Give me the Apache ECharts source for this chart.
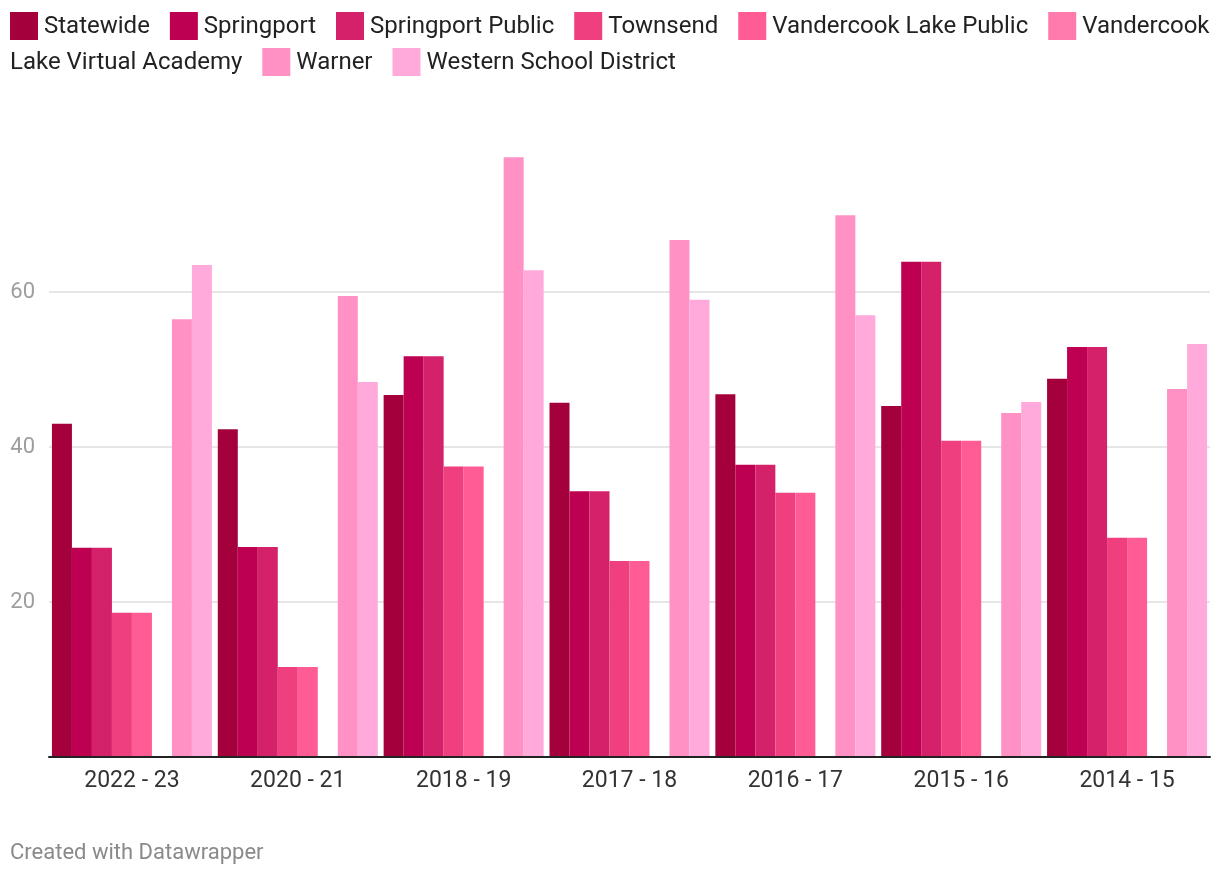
<!DOCTYPE html>
<html>
<head>
<meta charset="utf-8">
<style>
html,body{margin:0;padding:0;background:#fff;}
#chart{width:1220px;height:878px;}
</style>
<script src="https://cdn.jsdelivr.net/npm/echarts@6/dist/echarts.min.js"></script>
</head>
<body>
<div id="chart"></div>
<script>
const categories = ['2022 - 23','2020 - 21','2018 - 19','2017 - 18','2016 - 17','2015 - 16','2014 - 15'];
const seriesNames = ['Statewide','Springport','Springport Public','Townsend','Vandercook Lake Public','Vandercook Lake Virtual Academy','Warner','Western School District'];
const colors = ['#a3003c','#bd0051','#d5206a','#ef3f7e','#ff5c95','#ff7bae','#ff91c5','#ffaadb'];

const statewide            = [43.0, 42.3, 46.7, 45.7, 46.8, 45.3, 48.8];
const springport           = [27.0, 27.1, 51.7, 34.3, 37.7, 63.9, 52.9];
const springportPublic     = [27.0, 27.1, 51.7, 34.3, 37.7, 63.9, 52.9];
const townsend             = [18.6, 11.6, 37.5, 25.3, 34.1, 40.8, 28.3];
const vandercookLakePublic = [18.6, 11.6, 37.5, 25.3, 34.1, 40.8, 28.3];
const vandercookVirtual    = [null, null, null, null, null, null, null];
const warner               = [56.5, 59.5, 77.4, 66.7, 69.9, 44.4, 47.5];
const western              = [63.5, 48.4, 62.8, 59.0, 57.0, 45.8, 53.3];

const yTicks = [20, 40, 60];

const seriesData = [statewide, springport, springportPublic, townsend, vandercookLakePublic, vandercookVirtual, warner, western];

// Build legend as flowing text (like the original, which wraps a long name across lines)
const legendFont = '24px Roboto';
const ctx = document.createElement('canvas').getContext('2d');
ctx.font = legendFont;
function tw(s){ return ctx.measureText(s).width; }
const graphics = [];
(function buildLegend(){
  const left = 10, right = 1212, sw = 28, gapSwatch = 6, gapItem = 20, lineH = 36, firstY = 26;
  let x = left, y = firstY;
  seriesNames.forEach((name, i) => {
    if (x !== left) x += gapItem;
    const words = name.split(' ');
    if (x + sw + gapSwatch + tw(words[0]) > right) { x = left; y += lineH; }
    graphics.push({type:'rect', left: x, top: y - 14, shape:{x:0,y:0,width:sw,height:28}, style:{fill: colors[i]}, silent:true});
    x += sw + gapSwatch;
    let lineText = '', lineStart = x;
    words.forEach((w) => {
      const candidate = lineText ? lineText + ' ' + w : w;
      if (lineStart + tw(candidate) > right && lineText) {
        graphics.push({type:'text', left: lineStart, top: y - 11, style:{text: lineText, font: legendFont, fill:'#222'}, silent:true});
        y += lineH; lineStart = left; lineText = w;
      } else {
        lineText = candidate;
      }
    });
    graphics.push({type:'text', left: lineStart, top: y - 11, style:{text: lineText, font: legendFont, fill:'#222'}, silent:true});
    x = lineStart + tw(lineText);
  });
})();

graphics.push({type:'text', left: 10, top: 842, style:{text:'Created with Datawrapper', font:'22px Roboto', fill:'#8a8a8a'}, silent:true});

const chart = echarts.init(document.getElementById('chart'), null, {renderer:'canvas'});
chart.setOption({
  animation: false,
  backgroundColor: '#fff',
  textStyle: {fontFamily: 'Roboto'},
  grid: {left: 49, right: 10, top: 137, bottom: 121, containLabel: false},
  legend: {show: false},
  graphic: graphics,
  xAxis: {
    type: 'category',
    data: categories,
    axisTick: {show: false},
    axisLine: {show: true, lineStyle: {color: '#222', width: 2}},
    axisLabel: {color: '#333', fontSize: 23, margin: 13, fontFamily: 'Roboto'},
    z: 10
  },
  yAxis: {
    type: 'value',
    min: 0, max: 80, interval: 20,
    axisLine: {show: false},
    axisTick: {show: false},
    axisLabel: {
      color: '#9e9e9e', fontSize: 22, margin: 14, fontFamily: 'Roboto',
      formatter: v => yTicks.indexOf(v) >= 0 ? String(v) : ''
    },
    splitLine: {show: true, lineStyle: {color: ['rgba(0,0,0,0)','#e6e6e6','#e6e6e6','#e6e6e6','rgba(0,0,0,0)'], width: 2}}
  },
  series: seriesNames.map((name, i) => ({
    name: name,
    type: 'bar',
    data: seriesData[i],
    barWidth: 20,
    barGap: '0%',
    itemStyle: {color: colors[i]},
    silent: true
  }))
});
</script>
</body>
</html>
